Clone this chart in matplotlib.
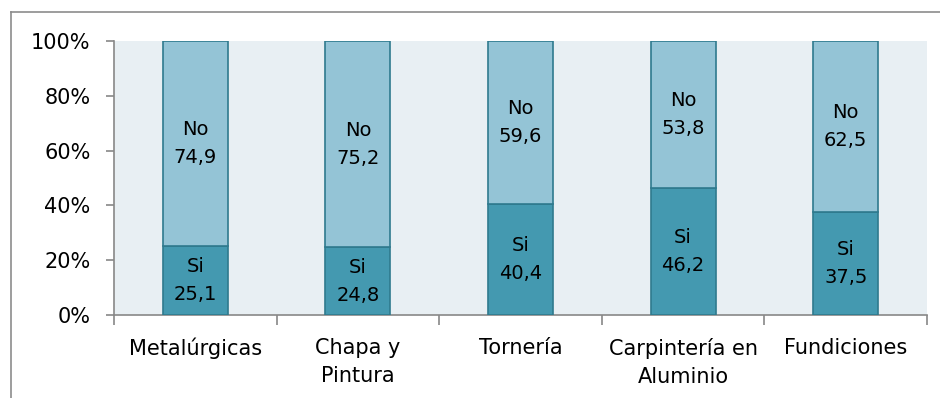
import matplotlib
matplotlib.use('Agg')
import matplotlib.pyplot as plt
from matplotlib.lines import Line2D
import numpy as np

categories = ['Metalúrgicas', 'Chapa y\nPintura', 'Tornería', 'Carpintería en\nAluminio', 'Fundiciones']
si_values = [25.1, 24.8, 40.4, 46.2, 37.5]
no_values = [74.9, 75.2, 59.6, 53.8, 62.5]
y_ticks = [0, 20, 40, 60, 80, 100]

plt.rcParams['font.family'] = ['DejaVu Sans']

fig = plt.figure(figsize=(9.4, 3.98), dpi=100)
ax = fig.add_axes([114 / 940, 1 - 315 / 398, (927 - 114) / 940, (315 - 41) / 398])
ax.set_facecolor('#E8EFF3')

x = np.arange(len(categories))
si_color = '#4499B0'
no_color = '#94C4D6'
edge = '#2F7A8E'

ax.bar(x, si_values, width=0.4, color=si_color, edgecolor=edge, linewidth=1.2, zorder=3)
ax.bar(x, no_values, width=0.4, bottom=si_values, color=no_color, edgecolor=edge, linewidth=1.2, zorder=3)

# data labels: series name + value, centred in each segment
for i in range(len(categories)):
    s = si_values[i]
    n = no_values[i]
    ax.text(x[i], s / 2, f'Si\n{s:.1f}'.replace('.', ','), ha='center', va='center',
            fontsize=14, linespacing=1.6, zorder=4)
    ax.text(x[i], s + n / 2, f'No\n{n:.1f}'.replace('.', ','), ha='center', va='center',
            fontsize=14, linespacing=1.6, zorder=4)

ax.set_xlim(-0.5, len(categories) - 0.5)
ax.set_ylim(0, 100)
ax.set_yticks(y_ticks)
ax.set_yticklabels([f'{t}%' for t in y_ticks], fontsize=15)
ax.set_xticks(x)
ax.set_xticklabels(categories, fontsize=15, linespacing=1.5, va='top')
ax.set_xticks(np.arange(len(categories) + 1) - 0.5, minor=True)

ax.tick_params(axis='x', which='major', length=0, pad=16.5)
ax.tick_params(axis='x', which='minor', length=7, width=1.2, color='#888888', direction='out')
ax.tick_params(axis='y', length=6, width=1.2, color='#888888', pad=11)

for side in ['top', 'right']:
    ax.spines[side].set_visible(False)
for side in ['left', 'bottom']:
    ax.spines[side].set_color('#888888')
    ax.spines[side].set_linewidth(1.2)

# outer chart border (only top and left visible in the crop)
fig.add_artist(Line2D([11 / 940, 11 / 940], [0, 1 - 12 / 398], transform=fig.transFigure,
                      color='#8C8C8C', linewidth=1.2))
fig.add_artist(Line2D([11 / 940, 1], [1 - 12 / 398, 1 - 12 / 398], transform=fig.transFigure,
                      color='#8C8C8C', linewidth=1.2))

fig.savefig('out.png', dpi=100, facecolor='white')
